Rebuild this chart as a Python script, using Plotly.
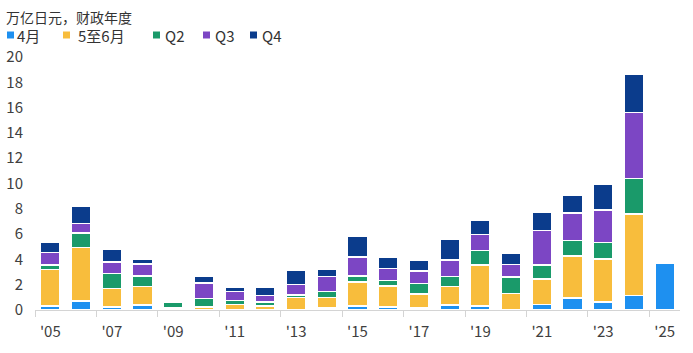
import plotly.graph_objects as go

years = list(range(2005, 2026))
tick_years = list(range(2005, 2026, 2))
tick_text = ["'" + str(y)[2:] for y in tick_years]
series_names = ["4月", "5至6月", "Q2", "Q3", "Q4"]
apr = [0.3, 0.7, 0.25, 0.4, None, None, 0.05, 0.05, 0.05, 0.15, 0.3, 0.25, 0.15, 0.4, 0.3, 0.05, 0.45, 0.95, 0.65, 1.15, 3.7]
may_jun = [2.9, 4.25, 1.45, 1.45, 0.15, 0.25, 0.4, 0.25, 0.95, 0.85, 1.9, 1.65, 1.1, 1.45, 3.25, 1.25, 2.0, 3.3, 3.4, 6.45, None]
q2 = [0.35, 1.15, 1.2, 0.85, 0.5, 0.65, 0.3, 0.35, 0.2, 0.45, 0.5, 0.45, 0.85, 0.8, 1.15, 1.3, 1.1, 1.25, 1.3, 2.8, None]
q3 = [1.0, 0.75, 0.9, 0.95, None, 1.25, 0.7, 0.5, 0.8, 1.2, 1.5, 0.95, 1.0, 1.3, 1.25, 1.0, 2.75, 2.15, 2.55, 5.2, None]
q4 = [0.8, 1.35, 1.0, 0.4, None, 0.5, 0.35, 0.65, 1.15, 0.55, 1.65, 0.85, 0.85, 1.65, 1.15, 0.9, 1.45, 1.4, 2.05, 3.0, None]
colors = ["#1E90F0", "#F8BD3C", "#1A9A6A", "#7C46C4", "#0B3C8C"]
unit_title = "万亿日元，财政年度"

W, H = 693, 353
L, R, T, B = 35, 13, 57, 43
PW, PH = W - L - R, H - T - B


def fx(p):
    return (p - L) / PW


def fy(p):
    return (H - B - p) / PH


fig = go.Figure()
for name, vals, c in zip(series_names, [apr, may_jun, q2, q3, q4], colors):
    fig.add_trace(go.Bar(
        x=years, y=vals, name=name, width=0.64,
        marker=dict(color=c, line=dict(color="white", width=1.5)),
    ))

font = "Noto Sans CJK SC"
text_color = "#404040"

# custom legend (title + compact square swatches)
annotations = [dict(
    text=unit_title, xref="paper", yref="paper", x=fx(4), y=fy(16.5),
    xanchor="left", yanchor="middle", showarrow=False,
    font=dict(family=font, size=14, color="#333333"),
)]
shapes = []
sq_left = [7, 63, 153, 203, 250]
txt_left = [15, 76, 163, 213, 260]
row_y = 35
for name, c, sx, tx in zip(series_names, colors, sq_left, txt_left):
    shapes.append(dict(type="rect", xref="paper", yref="paper",
                       x0=fx(sx), x1=fx(sx + 7), y0=fy(row_y + 3.5), y1=fy(row_y - 3.5),
                       fillcolor=c, line=dict(width=0)))
    annotations.append(dict(
        text=name, xref="paper", yref="paper", x=fx(tx), y=fy(row_y),
        xanchor="left", yanchor="middle", showarrow=False,
        font=dict(family=font, size=15, color="#333333"),
    ))

fig.update_layout(
    barmode="stack",
    width=W, height=H,
    margin=dict(l=L, r=R, t=T, b=B, autoexpand=False),
    plot_bgcolor="white", paper_bgcolor="white",
    font=dict(family=font, size=15, color=text_color),
    showlegend=False,
    annotations=annotations,
    shapes=shapes,
    xaxis=dict(
        range=[2004.5, 2025.5], tickvals=tick_years, ticktext=tick_text,
        ticks="outside", ticklen=8, tickcolor="rgba(0,0,0,0)",
        showline=True, linecolor="#d4d4d4", linewidth=1,
        showgrid=False, zeroline=False,
        minor=dict(tickvals=[y - 0.5 for y in tick_years], ticks="outside", ticklen=6,
                   tickcolor="#d4d4d4", showgrid=False),
        tickfont=dict(size=15, color=text_color),
    ),
    yaxis=dict(
        range=[0, 20], tickvals=list(range(0, 21, 2)),
        showgrid=False, zeroline=False, showline=False,
        ticks="outside", ticklen=8, tickcolor="rgba(0,0,0,0)",
        tickfont=dict(size=15, color=text_color),
    ),
)
fig.write_html("out.html")
